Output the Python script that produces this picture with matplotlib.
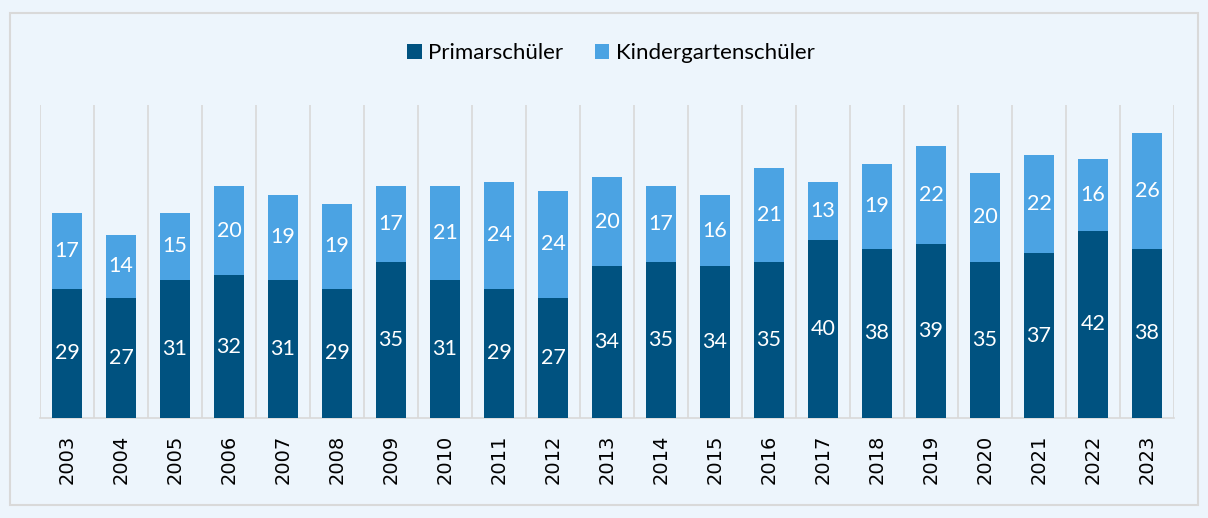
import matplotlib
matplotlib.use('Agg')
import matplotlib.pyplot as plt
import matplotlib.patches as mpatches
import numpy as np

years = ['2003', '2004', '2005', '2006', '2007', '2008', '2009', '2010', '2011', '2012', '2013',
         '2014', '2015', '2016', '2017', '2018', '2019', '2020', '2021', '2022', '2023']
primar = [29, 27, 31, 32, 31, 29, 35, 31, 29, 27, 34, 35, 34, 35, 40, 38, 39, 35, 37, 42, 38]
kinder = [17, 14, 15, 20, 19, 19, 17, 21, 24, 24, 20, 17, 16, 21, 13, 19, 22, 20, 22, 16, 26]

dark = '#005280'
light = '#4BA3E3'
bg = '#EDF5FC'
grid = '#D9D9D9'

plt.rcParams['font.family'] = ['Lato', 'DejaVu Sans']

fig = plt.figure(figsize=(12.08, 5.18), dpi=100)
fig.patch.set_facecolor(bg)
fig.patches.append(mpatches.Rectangle((10/1208, 13/518), 1188/1208, 492/518, transform=fig.transFigure,
                                      fill=False, edgecolor=grid, linewidth=1.5))

ax = fig.add_axes([40/1208, 100/518, 1134/1208, 313/518])
ax.set_facecolor(bg)
x = np.arange(len(years))
w = 0.56
b1 = ax.bar(x, primar, w, color=dark, label='Primarschüler', zorder=3)
b2 = ax.bar(x, kinder, w, bottom=primar, color=light, label='Kindergartenschüler', zorder=3)

for i in range(len(years)):
    ax.text(x[i], primar[i] / 2, str(primar[i]), ha='center', va='center', color='white', fontsize=15.5, zorder=4)
    ax.text(x[i], primar[i] + kinder[i] / 2, str(kinder[i]), ha='center', va='center', color='white', fontsize=15.5, zorder=4)

ax.set_xlim(-0.5, len(years) - 0.5)
ax.set_ylim(0, 70.2)
for b in np.arange(-0.5, len(years) + 0.5, 1):
    ax.axvline(b, color=grid, linewidth=1.2, zorder=1)
for s in ['top', 'right', 'left']:
    ax.spines[s].set_visible(False)
ax.spines['bottom'].set_color(grid)
ax.spines['bottom'].set_linewidth(1.2)
ax.set_yticks([])
ax.set_xticks(x)
ax.set_xticklabels(years, rotation=90, fontsize=14, family='DejaVu Sans')
ax.tick_params(axis='x', length=0, pad=12)

fig.legend(handles=[b1, b2], loc='center', bbox_to_anchor=(0.5 + 7/1208, 1 - 53/518), ncol=2, frameon=False,
           fontsize=16, handlelength=0.65, handleheight=0.65, handletextpad=0.3, columnspacing=1.4)

fig.savefig('out.png', dpi=100, facecolor=bg)
